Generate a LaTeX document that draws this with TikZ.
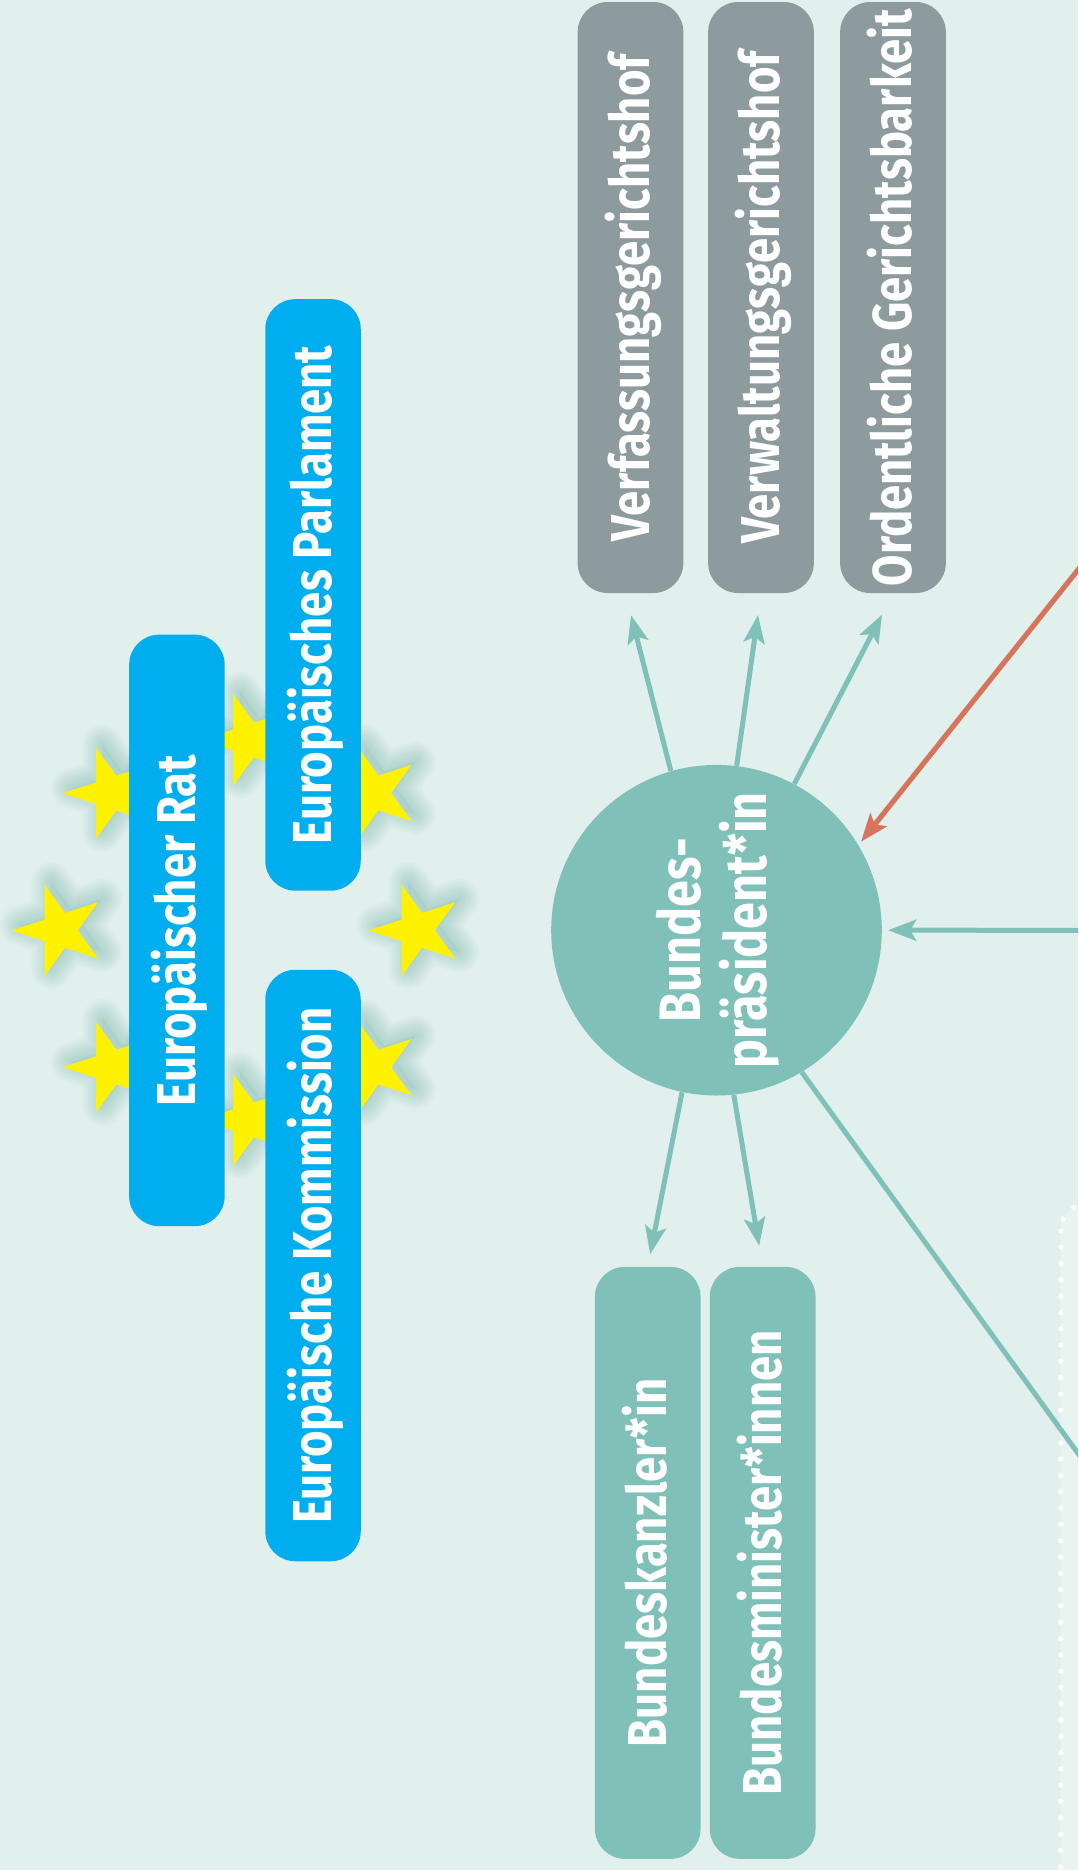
\documentclass[tikz,border=0pt]{standalone}
\usepackage{graphicx}
\usepackage{fontspec}
\setmainfont{Fira Sans}[FakeStretch=0.83]
\usetikzlibrary{arrows.meta}
\definecolor{bg}{HTML}{E1F0EC}
\definecolor{panel}{HTML}{E9F4F1}
\definecolor{courtgray}{HTML}{8E9B9E}
\definecolor{eublue}{HTML}{00AEEF}
\definecolor{tealc}{HTML}{7FC0B8}
\definecolor{staryellow}{HTML}{FFF200}
\definecolor{redc}{HTML}{D6745E}
\definecolor{glowc}{HTML}{6FB0A8}
\newcommand\vtext[1]{\rotatebox{90}{\vphantom{X}\smash{#1}}}
\newcommand\starpath[1]{(180:48*#1) -- (216:18.3*#1) -- (252:48*#1) -- (288:18.3*#1) -- (324:48*#1) -- (0:18.3*#1) -- (36:48*#1) -- (72:18.3*#1) -- (108:48*#1) -- (144:18.3*#1) -- cycle}
\tikzset{
  eustar/.pic={
    \fill[glowc, opacity=0.12, shift={(6,-5)}] \starpath{0.95};
    \foreach \w in {2,4,6,8,10,12,14,16,18,20}{
      \draw[glowc, opacity=0.045, line width=\w pt, line join=round, shift={(6,-5)}] \starpath{0.95};
    }
    \fill[staryellow] \starpath{1};
  },
  boxbase/.style={rectangle, rounded corners=15pt, inner sep=0pt, text=white,
    font=\bfseries\fontsize{27.4pt}{30pt}\selectfont},
  gbox/.style={boxbase, fill=courtgray, minimum width=52.85pt, minimum height=295.5pt},
  bbox/.style={boxbase, fill=eublue, minimum width=47.75pt, minimum height=295.75pt},
  tbox/.style={boxbase, fill=tealc, minimum width=52.85pt, minimum height=296pt},
  pcircle/.style={circle, fill=tealc, minimum size=165.3pt, inner sep=0pt, text=white,
    font=\bfseries\fontsize{29.2pt}{31.4pt}\selectfont},
  tip/.tip={Stealth[length=14pt, width=10.5pt, inset=3pt]},
  arr/.style={draw=tealc, line width=2.5pt, -tip},
  plain/.style={draw=tealc, line width=2.5pt},
  redarr/.style={draw=redc, line width=2.6pt, -{Stealth[length=14pt, width=10.5pt, inset=3pt]}},
}
\begin{document}
\begin{tikzpicture}[x=0.5pt,y=-0.5pt]
\useasboundingbox (0,0) rectangle (1078,1870);
\clip (0,0) rectangle (1078,1870);
\fill[bg] (0,0) rectangle (1078,1870);
% dotted panel at the right edge
\draw[white, fill=panel, line width=2.6pt, line cap=round, dash pattern=on 0pt off 8.15pt, rounded corners=14pt] (1060.7,1203) rectangle (1400,2100);
% stars
\pic at (110.7,793.2) {eustar};
\pic at (59.4,930.4) {eustar};
\pic at (110.7,1067.2) {eustar};
\pic at (248.3,740) {eustar};
\pic at (248.3,1120) {eustar};
\pic at (416.5,930.4) {eustar};
\pic at (372.8,793) {eustar};
\pic at (372.8,1067.2) {eustar};
% nodes
\node[gbox] (vfgh) at (630.5,297.5) {\vtext{Verfassungsgerichtshof}};
\node[gbox] (vwgh) at (761,297.5) {\vtext{Verwaltungsgerichtshof}};
\node[gbox] (ogb) at (893,297.5) {\vtext{Ordentliche Gerichtsbarkeit}};
\node[bbox] (ep) at (313,594.9) {\vtext{Europäisches Parlament}};
\node[bbox] (er) at (176.9,930.4) {\vtext{Europäischer Rat}};
\node[bbox] (ek) at (313,1265.5) {\vtext{Europäische Kommission}};
\node[tbox] (bk) at (647.75,1562.85) {\vtext{Bundeskanzler*in}};
\node[tbox] (bm) at (762.65,1562.85) {\vtext{Bundesminister*innen}};
\node[pcircle] (bp) at (716.5,930.2) {\hspace{4pt}\rotatebox{90}{\begin{tabular}{@{}c@{}}Bundes-\\präsident*in\end{tabular}}};
% off-picture ends
\coordinate (offSE) at (1150,1552.7);
\coordinate (offNE) at (1180,442);
\coordinate (offE) at (1150,930.3);
% connectors
\draw[arr, shorten >=11.2pt] (bp.106.45) -- ([xshift=-2.5pt]vfgh.south);
\draw[arr, shorten >=10.9pt] (bp.83.94) -- (vwgh.south);
\draw[arr, shorten >=12pt] (bp.62.1) -- (ogb.south);
\draw[arr, shorten >=6.2pt] (bp.258.07) -- (bk.north);
\draw[arr, shorten >=10.5pt] (bp.276.04) -- (bm.north);
\draw[plain] (bp.301.3) -- (offSE);
\draw[arr, shorten >=3pt] (offE) -- (bp.east);
\draw[redarr, shorten >=2pt] (offNE) -- (bp.31.67);
\end{tikzpicture}
\end{document}
